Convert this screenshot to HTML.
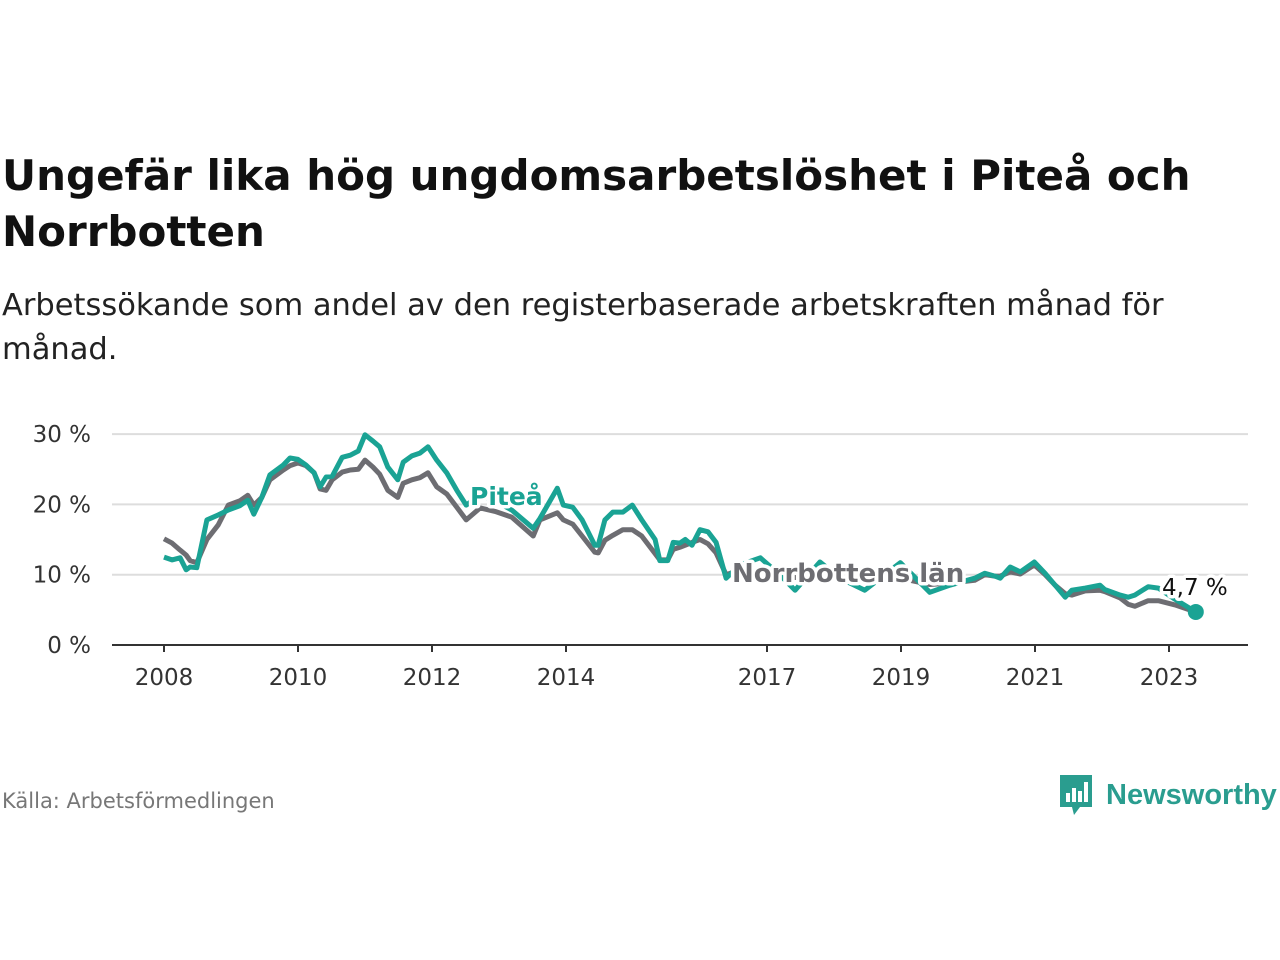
<!DOCTYPE html>
<html><head><meta charset="utf-8"><style>
body{margin:0;background:#fff;width:1280px;height:960px;overflow:hidden;font-family:"DejaVu Sans","Liberation Sans",sans-serif}
#title{position:absolute;left:2px;top:148px;font-size:42px;font-weight:bold;color:#111;line-height:56px;margin:0;white-space:nowrap}
#sub{position:absolute;left:2px;top:284px;font-size:30.5px;color:#222;line-height:44px;margin:0;white-space:nowrap}
#src{position:absolute;left:2px;top:789px;font-size:21px;color:#777}
#logo{position:absolute;left:1058px;top:772px;height:46px;display:flex;align-items:center}
#logo span{font-family:"Liberation Sans",sans-serif;font-size:29px;color:#2a9d8f;font-weight:bold;margin-left:12px}
svg{position:absolute;left:0;top:0}
</style></head><body>
<h1 id="title">Ungefär lika hög ungdomsarbetslöshet i Piteå och<br>Norrbotten</h1>
<p id="sub">Arbetssökande som andel av den registerbaserade arbetskraften månad för<br>månad.</p>
<svg id="chart" width="1280" height="960"></svg>
<div id="src">Källa: Arbetsförmedlingen</div>
<div id="logo">
<svg style="position:static" width="36" height="44" viewBox="0 0 36 44"><path d="M2 2h32v32H22l-6 8-2-8H2z" fill="#2a9d8f"/><rect x="8" y="20" width="4" height="9" fill="#fff"/><rect x="14" y="15" width="4" height="14" fill="#fff"/><rect x="20" y="18" width="4" height="11" fill="#fff"/><rect x="26" y="9" width="4" height="20" fill="#fff"/></svg>
<span>Newsworthy</span></div>
<script>
const dates=[2008,2008.12,2008.24,2008.33,2008.39,2008.49,2008.64,2008.81,2008.96,2009.13,2009.25,2009.34,2009.46,2009.58,2009.78,2009.88,2010,2010.12,2010.24,2010.33,2010.42,2010.51,2010.66,2010.78,2010.9,2011,2011.12,2011.22,2011.34,2011.49,2011.57,2011.7,2011.82,2011.94,2012.07,2012.22,2012.37,2012.51,2012.72,2012.94,2013.19,2013.51,2013.61,2013.87,2013.96,2014.1,2014.24,2014.43,2014.48,2014.58,2014.7,2014.85,2014.99,2015.13,2015.33,2015.4,2015.52,2015.6,2015.7,2015.78,2015.88,2016,2016.12,2016.24,2016.39,2016.6,2016.9,2017.19,2017.42,2017.79,2018.09,2018.46,2018.99,2019.43,2019.73,2020.1,2020.25,2020.4,2020.48,2020.63,2020.78,2020.99,2021.15,2021.3,2021.45,2021.55,2021.75,2021.97,2022.04,2022.27,2022.39,2022.49,2022.69,2022.84,2023.09,2023.4];
const pitea=[12.5,12.1,12.4,10.7,11.1,11,17.8,18.5,19.2,19.8,20.6,18.6,21,24.2,25.6,26.6,26.4,25.6,24.5,22.5,23.9,24,26.7,27,27.6,29.9,29,28.2,25.3,23.5,26,26.9,27.3,28.2,26.3,24.5,22,19.9,21.3,20.5,19.2,16.6,18,22.3,19.9,19.6,17.8,14.2,14.2,17.8,18.9,18.9,19.9,17.8,15,12,12,14.6,14.5,15,14.2,16.4,16.1,14.6,9.5,11.4,12.4,10,7.8,11.8,9.5,7.8,11.7,7.5,8.5,9.5,10.2,9.8,9.5,11.1,10.4,11.8,10.2,8.5,6.8,7.8,8.1,8.5,7.9,7.1,6.8,7.1,8.3,8.1,6.5,4.7];
const norrbotten=[15.1,14.5,13.5,12.8,12,11.7,15,17.1,19.9,20.5,21.3,19.9,21,23.5,24.9,25.5,25.9,25.5,24.5,22.2,22,23.5,24.6,24.9,25,26.3,25.3,24.3,22,21,23,23.5,23.8,24.5,22.5,21.5,19.6,17.8,19.5,19,18.2,15.5,17.8,18.8,17.8,17.2,15.5,13.2,13.1,14.9,15.6,16.4,16.4,15.5,13,12.1,12.1,13.6,13.9,14.2,14.6,15,14.4,13.1,10,10.7,10.5,10,9.6,9.8,9.3,9.2,9.5,8.6,8.8,9.2,10,9.8,9.8,10.4,10.1,11.4,10,8.5,7.3,7.1,7.7,7.8,7.6,6.7,5.8,5.5,6.3,6.3,5.7,4.7];
const yTicks=[0,10,20,30];
const xTicks=[2008,2010,2012,2014,2017,2019,2021,2023];
const NS='http://www.w3.org/2000/svg';
const svg=document.getElementById('chart');
const X=t=>164+(t-2008)*67;
const Y=v=>645-7.03*v;
function mk(tag,attrs,parent){const e=document.createElementNS(NS,tag);for(const k in attrs)e.setAttribute(k,attrs[k]);(parent||svg).appendChild(e);return e;}
yTicks.forEach(v=>{
 if(v>0){const g=mk('line',{x1:112,x2:1248,y1:Y(v),y2:Y(v),stroke:'#ddd','stroke-width':2});
 
 }
 const t=mk('text',{x:91,y:Y(v)+8,'text-anchor':'end','font-size':23,fill:'#333'});
 
 
 t.textContent=v+' %';
});
const ax=mk('line',{x1:112,x2:1248,y1:645,y2:645,stroke:'#333','stroke-width':2});


xTicks.forEach(yr=>{
 const tk=mk('line',{x1:X(yr),x2:X(yr),y1:645,y2:652,stroke:'#333','stroke-width':2});
 
 
 const t=mk('text',{x:X(yr),y:685,'text-anchor':'middle','font-size':23,fill:'#333'});
 
 
 t.textContent=yr;
});
function line(vals,color,name){
 const d=vals.map((v,i)=>(i?'L':'M')+X(dates[i]).toFixed(1)+' '+Y(v).toFixed(1)).join(' ');
 const p=mk('path',{d:d,fill:'none',stroke:color,'stroke-width':5,'stroke-linejoin':'round'});
 
 
}
line(norrbotten,'#6d6d72','norrbotten-line');
line(pitea,'#1aa394','pitea-line');
const last=dates.length-1;
const dot=mk('circle',{cx:X(dates[last]),cy:Y(pitea[last]),r:8,fill:'#1aa394'});


function label(txt,x,y,color,weight,size,name){
 const t=mk('text',{x:x,y:y,'font-size':size,'font-weight':weight,fill:color,stroke:'#fff','stroke-width':7,'paint-order':'stroke','stroke-linejoin':'round'});
 
 
 t.textContent=txt;
}
label('Piteå',470,505,'#1aa394','bold',25,'pitea-label');
label('Norrbottens län',732,582,'#6d6d72','bold',26,'norrbotten-label');
label(String(pitea[last]).replace('.',',')+' %',1162,595,'#111','normal',23,'last-value-label');
</script>
</body></html>
